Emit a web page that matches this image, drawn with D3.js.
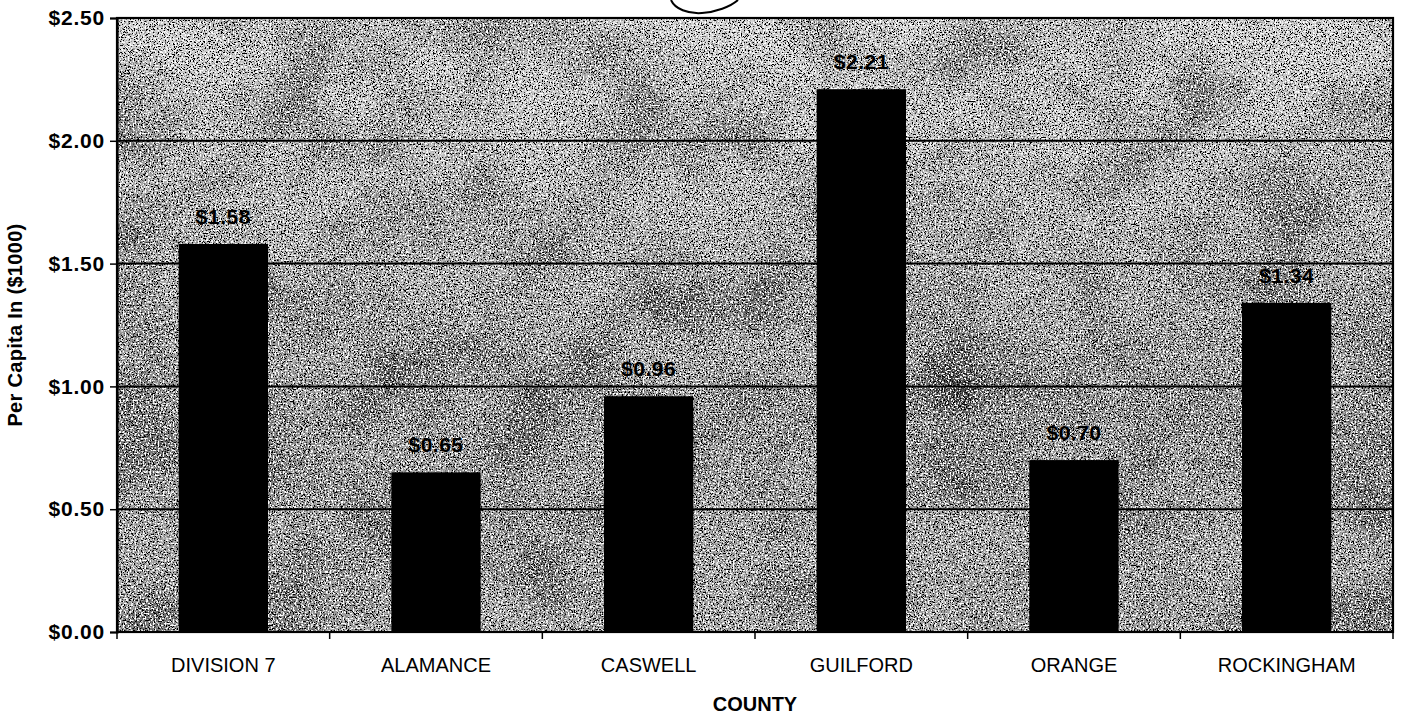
<!DOCTYPE html>
<html>
<head>
<meta charset="utf-8">
<script src="https://cdn.jsdelivr.net/npm/d3@7"></script>
<style>
	body { margin: 0; background: #fff; }
	svg text { font-family: "Liberation Sans", Arial, sans-serif; fill: #000; }
</style>
</head>
<body>
<div id="vis"></div>
<script>

var counties = ["DIVISION 7", "ALAMANCE", "CASWELL", "GUILFORD", "ORANGE", "ROCKINGHAM"];
var perCapita = [1.58, 0.65, 0.96, 2.21, 0.70, 1.34];
var yTicks = [0, 0.5, 1.0, 1.5, 2.0, 2.5];

var w = 1404, h = 717;
var plot = {left: 117, right: 1393, top: 18, bottom: 632};

var svg = d3.select("#vis").append("svg")
	.attr("width", w)
	.attr("height", h);

var defs = svg.append("defs");

// speckled scan texture for the plot background
var grad = defs.append("linearGradient")
	.attr("id", "bgGrad")
	.attr("x1", 0).attr("y1", 0).attr("x2", 0).attr("y2", 1);
grad.append("stop").attr("offset", "0%").attr("stop-color", "#d4d4d4");
grad.append("stop").attr("offset", "30%").attr("stop-color", "#bdbdbd");
grad.append("stop").attr("offset", "65%").attr("stop-color", "#9a9a9a");
grad.append("stop").attr("offset", "100%").attr("stop-color", "#ababab");

var f = defs.append("filter")
	.attr("id", "speckle")
	.attr("filterUnits", "userSpaceOnUse")
	.attr("x", plot.left).attr("y", plot.top)
	.attr("width", plot.right - plot.left).attr("height", plot.bottom - plot.top);
// large blotches
f.append("feTurbulence")
	.attr("type", "fractalNoise")
	.attr("baseFrequency", "0.012")
	.attr("numOctaves", 3)
	.attr("seed", 11)
	.attr("result", "coarse");
f.append("feColorMatrix")
	.attr("in", "coarse")
	.attr("type", "matrix")
	.attr("values", "0 0 0 0 0  0 0 0 0 0  0 0 0 0 0  1.6 0 0 0 -0.62")
	.attr("result", "blotch");
// fine dark dots
f.append("feTurbulence")
	.attr("type", "fractalNoise")
	.attr("baseFrequency", "0.75")
	.attr("numOctaves", 2)
	.attr("seed", 7)
	.attr("result", "fine");
f.append("feColorMatrix")
	.attr("in", "fine")
	.attr("type", "matrix")
	.attr("values", "0 0 0 0 0  0 0 0 0 0  0 0 0 0 0  -9 0 0 0 4.5")
	.attr("result", "dots");
// fine light dots
f.append("feTurbulence")
	.attr("type", "fractalNoise")
	.attr("baseFrequency", "0.6")
	.attr("numOctaves", 1)
	.attr("seed", 3)
	.attr("result", "fine2");
f.append("feColorMatrix")
	.attr("in", "fine2")
	.attr("type", "matrix")
	.attr("values", "0 0 0 0 1  0 0 0 0 1  0 0 0 0 1  9 0 0 0 -4.8")
	.attr("result", "whites");
f.append("feMerge").selectAll("feMergeNode")
	.data(["SourceGraphic", "blotch", "dots", "whites"])
	.enter()
	.append("feMergeNode")
	.attr("in", function (d) { return d; });

var x = d3.scaleBand()
	.domain(counties)
	.range([plot.left, plot.right])
	.paddingInner(0.58)
	.paddingOuter(0.29);

var xEdge = d3.scaleBand()
	.domain(counties)
	.range([plot.left, plot.right]);

var y = d3.scaleLinear()
	.domain([0, 2.5])
	.range([plot.bottom, plot.top]);

var money = d3.format("$.2f");

svg.append("rect")
	.attr("x", plot.left)
	.attr("y", plot.top)
	.attr("width", plot.right - plot.left)
	.attr("height", plot.bottom - plot.top)
	.attr("fill", "url(#bgGrad)")
	.attr("filter", "url(#speckle)");

// gridlines
svg.append("g")
	.selectAll("line")
	.data(yTicks.slice(1, -1))
	.enter()
	.append("line")
	.attr("x1", plot.left)
	.attr("x2", plot.right)
	.attr("y1", function (d) { return y(d); })
	.attr("y2", function (d) { return y(d); })
	.attr("stroke", "#000")
	.attr("stroke-width", 2);

// bars
svg.append("g")
	.selectAll("rect")
	.data(perCapita)
	.enter()
	.append("rect")
	.attr("x", function (d, i) { return x(counties[i]); })
	.attr("y", function (d) { return y(d); })
	.attr("width", x.bandwidth())
	.attr("height", function (d) { return y(0) - y(d); })
	.attr("fill", "#000");

// value labels
svg.append("g")
	.selectAll("text")
	.data(perCapita)
	.enter()
	.append("text")
	.attr("x", function (d, i) { return x(counties[i]) + x.bandwidth() / 2; })
	.attr("y", function (d) { return y(d) - 20; })
	.attr("text-anchor", "middle")
	.attr("font-size", 21)
	.attr("font-weight", "bold")
	.attr("letter-spacing", 0.5)
	.text(function (d) { return money(d); });

// frame
svg.append("rect")
	.attr("x", plot.left)
	.attr("y", plot.top)
	.attr("width", plot.right - plot.left)
	.attr("height", plot.bottom - plot.top)
	.attr("fill", "none")
	.attr("stroke", "#000")
	.attr("stroke-width", 2.2);

// y axis
var yAxis = svg.append("g")
	.attr("transform", "translate(" + plot.left + ",0)")
	.call(d3.axisLeft(y).tickValues(yTicks).tickFormat(money).tickSize(7).tickPadding(5));
yAxis.select(".domain").attr("stroke-width", 2.2);
yAxis.selectAll("line").attr("stroke-width", 1.5);
yAxis.selectAll("text")
	.attr("font-size", 21)
	.attr("font-weight", "bold")
	.attr("letter-spacing", 0.8)
	.attr("font-family", "Liberation Sans, Arial, sans-serif");

// x axis: ticks sit on the category boundaries
var edges = counties.map(function (c) { return xEdge(c); }).concat([plot.right]);
svg.append("g")
	.selectAll("line")
	.data(edges)
	.enter()
	.append("line")
	.attr("x1", function (d) { return d; })
	.attr("x2", function (d) { return d; })
	.attr("y1", plot.bottom)
	.attr("y2", plot.bottom + 7)
	.attr("stroke", "#000")
	.attr("stroke-width", 1.5);

svg.append("g")
	.selectAll("text")
	.data(counties)
	.enter()
	.append("text")
	.attr("x", function (d) { return x(d) + x.bandwidth() / 2; })
	.attr("y", 672)
	.attr("text-anchor", "middle")
	.attr("font-size", 20)
	.text(function (d) { return d; });

svg.append("text")
	.attr("x", 755)
	.attr("y", 711)
	.attr("text-anchor", "middle")
	.attr("font-size", 20)
	.attr("font-weight", "bold")
	.text("COUNTY");

svg.append("text")
	.attr("transform", "translate(22," + 325 + ") rotate(-90)")
	.attr("text-anchor", "middle")
	.attr("font-size", 20)
	.attr("font-weight", "bold")
	.attr("letter-spacing", 0.3)
	.text("Per Capita In ($1000)");

// hand drawn mark above the chart
svg.append("path")
	.attr("d", "M671,0 C675,9 688,14 702,13 C716,12 730,7 738,0")
	.attr("fill", "none")
	.attr("stroke", "#000")
	.attr("stroke-width", 2);

</script>
</body>
</html>
